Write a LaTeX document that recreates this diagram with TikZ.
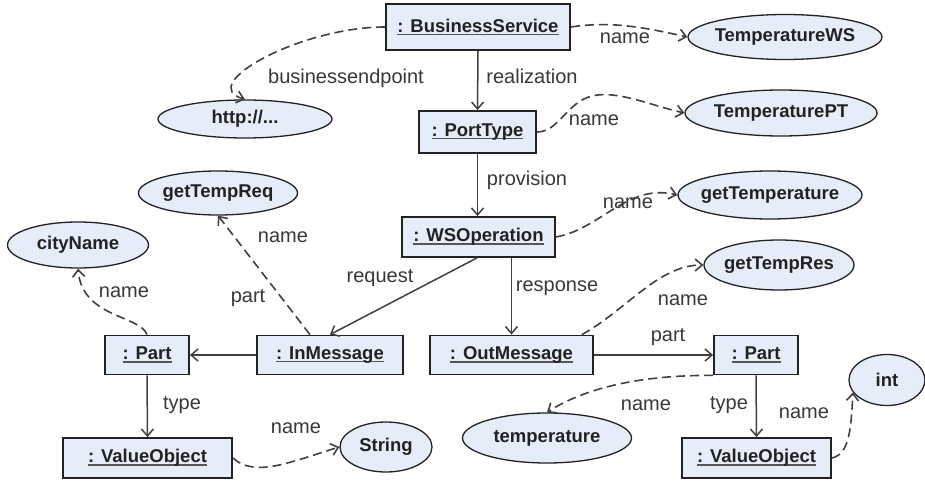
\documentclass[tikz,border=0pt]{standalone}
\usepackage{fontspec}
\setmainfont{Liberation Sans}
\usetikzlibrary{arrows.meta,shapes.geometric}
\definecolor{objfill}{RGB}{230,236,248}
\definecolor{edge}{RGB}{64,64,64}
\definecolor{ink}{RGB}{34,34,34}
\definecolor{uline}{RGB}{85,85,85}
% underline at a fixed depth, through descenders
\newcommand\ulbox[1]{\setbox0\hbox{#1}\rlap{\color{uline}\rule[-3pt]{\wd0}{1.4pt}}\box0}
\begin{document}
\begin{tikzpicture}[x=1pt,y=-1pt,
  obj/.style={draw=ink, line width=1.8pt, fill=objfill, inner sep=0pt,
    minimum height=40pt, font=\fontsize{18.5}{22}\selectfont\bfseries, text=ink},
  val/.style={ellipse, draw=ink, line width=1.3pt, fill=objfill, inner sep=0pt},
  vtext/.style={font=\fontsize{18.5}{22}\selectfont\bfseries, text=ink, inner sep=0pt},
  assoc/.style={draw=edge, line width=1.5pt, -{Straight Barb[length=7pt,width=12pt]}},
  namelink/.style={assoc, line width=1.6pt, dash pattern=on 9pt off 5pt},
  lbl/.style={font=\fontsize{20}{24}\selectfont, text=ink!90, inner sep=0pt}
]
\useasboundingbox (0,0) rectangle (925,481);

% object boxes
\node[obj, minimum width=184pt, minimum height=46pt] (bs) at (478,27) {\ulbox{: BusinessService}};
\node[obj, minimum width=117pt, minimum height=42pt] (pt) at (477.5,132) {\ulbox{: PortType}};
\node[obj, minimum width=153pt] (ws) at (478.5,237) {\ulbox{: WSOperation}};
\node[obj, minimum width=146pt, minimum height=39pt] (inm) at (330,355) {\ulbox{: InMessage}};
\node[obj, minimum width=163pt, minimum height=39pt] (outm) at (511.5,355) {\ulbox{: OutMessage}};
\node[obj, minimum width=84pt, minimum height=39pt] (partl) at (147,355) {\ulbox{: Part}};
\node[obj, minimum width=84pt, minimum height=39pt] (partr) at (756,355) {\ulbox{: Part}};
\node[obj, minimum width=169pt] (vol) at (147.5,458) {\ulbox{: ValueObject}};
\node[obj, minimum width=149pt] (vor) at (756.5,458) {\ulbox{: ValueObject}};

% value ellipses
\node[val, minimum width=194pt, minimum height=45pt, label={[vtext]center:TemperatureWS}] (tws) at (785,37) {};
\node[val, minimum width=192pt, minimum height=46pt, label={[vtext]center:TemperaturePT}] (tpt) at (781,113) {};
\node[val, minimum width=174pt, minimum height=38pt, label={[vtext]center:http://...}] (http) at (245,119) {};
\node[val, minimum width=159pt, minimum height=44pt, label={[vtext]center:getTempReq}] (greq) at (218,193) {};
\node[val, minimum width=141pt, minimum height=46pt, label={[vtext]center:cityName}] (cname) at (78,245) {};
\node[val, minimum width=184pt, minimum height=48pt, label={[vtext]center:getTemperature}] (gtemp) at (770,195) {};
\node[val, minimum width=150pt, minimum height=50pt, label={[vtext]center:getTempRes}] (gres) at (779,265) {};
\node[val, minimum width=92pt, minimum height=50pt, label={[vtext]center:String}] (str) at (386,447) {};
\node[val, minimum width=169pt, minimum height=50pt, label={[vtext]center:temperature}] (temp) at (547,438) {};
\node[val, minimum width=76pt, minimum height=51pt, label={[vtext]center:int}] (int) at (887,380) {};

% associations between objects
\draw[assoc] (bs.south) -- (pt.north);
\draw[assoc] (pt.south) -- (pt.south |- ws.north);
\draw[assoc] ([xshift=-1.5pt]ws.south) -- (inm.north);
\draw[assoc] (ws.south -| outm.north) -- (outm.north);
\draw[assoc] (inm.west) -- (partl.east);
\draw[assoc] (outm.east) -- (partr.west);
\draw[assoc] (partl.south) -- (vol.north);
\draw[assoc] (partr.south) -- (vor.north);

% attribute links to values
\draw[namelink] (bs.east) .. controls +(40,-6) and +(-45,-10) .. (tws.west);
\draw[namelink] (bs.west) .. controls (300,27) and (195,85) .. (http.north);
\draw[namelink] (pt.east) .. controls +(22,0) and +(-25,6) .. (592,96)
  .. controls +(25,-6) and +(-35,-8) .. (tpt.west);
\draw[namelink] (ws.east) .. controls +(45,-8) and +(-50,-12) .. (gtemp.west);
\draw[namelink] ([xshift=-12pt]outm.north east) .. controls +(45,-25) and +(-45,0) .. (gres.west);
\draw[namelink] (partr.south west) .. controls (640,375) and (585,388) .. (temp.north);
\draw[namelink] (vor.east) .. controls +(18,-4) and +(-2,35) .. (int.200);
\draw[namelink] ([xshift=-20pt]inm.north) -- (greq.south);
\draw[namelink] (partl.north) .. controls (140,315) and (82,318) .. (cname.south);
\draw[namelink] (vol.east) .. controls (255,478) and (290,462) .. (str.west);

% role labels
\node[lbl] (lreal) at (532,76) {realization};
\node[lbl] (lprov) at (527,180) {provision};
\node[lbl] (lreq) at (380,278) {request};
\node[lbl] (lresp) at (557,288) {response};
\node[lbl] (lpartl) at (248,298) {part};
\node[lbl] (lpartr) at (668,337) {part};
\node[lbl] (ltypel) at (182,405) {type};
\node[lbl] (ltyper) at (729,405) {type};
\node[lbl] (lbep) at (346,78) {businessendpoint};
\node[lbl] (ln1) at (625,38) {name};
\node[lbl] (ln2) at (594,120) {name};
\node[lbl] (ln3) at (628,203) {name};
\node[lbl] (ln4) at (683,300) {name};
\node[lbl] (ln5) at (646,405) {name};
\node[lbl] (ln6) at (804,413) {name};
\node[lbl] (ln7) at (283,237) {name};
\node[lbl] (ln8) at (124,292) {name};
\node[lbl] (ln9) at (296,428) {name};
\end{tikzpicture}
\end{document}
